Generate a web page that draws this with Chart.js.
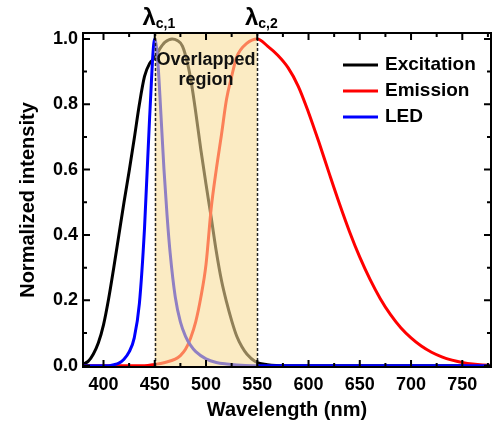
<!DOCTYPE html>
<html>
<head>
<meta charset="utf-8">
<script src="https://cdn.jsdelivr.net/npm/chart.js"></script>
<style>
  html, body { margin: 0; padding: 0; background: #fff; }
</style>
</head>
<body>
<canvas id="chart" width="499" height="428"></canvas>
<script>
// Excitation spectrum (black)
const excitationNm  = [380, 385, 390, 395, 400, 405, 410, 415, 420, 425, 430, 435, 440, 445, 450, 455, 460, 467, 472, 477, 482, 486, 490, 495, 500, 505, 510, 515, 520, 525, 530, 535, 540, 548, 560, 580, 780];
const excitationVal = [0.005, 0.013, 0.035, 0.07, 0.125, 0.205, 0.3, 0.4, 0.5, 0.595, 0.695, 0.8, 0.885, 0.925, 0.942, 0.97, 0.99, 1.0, 0.995, 0.978, 0.925, 0.86, 0.775, 0.66, 0.555, 0.455, 0.35, 0.262, 0.195, 0.138, 0.09, 0.058, 0.035, 0.013, 0.003, 0, 0];

// Emission spectrum (red)
const emissionNm  = [380, 440, 450, 460, 470, 475, 480, 485, 490, 495, 500, 505, 510, 515, 520, 525, 530, 540, 550, 560, 570, 580, 590, 600, 610, 620, 630, 640, 650, 660, 670, 680, 690, 700, 710, 720, 730, 740, 750, 760, 770, 778];
const emissionVal = [0, 0, 0.004, 0.01, 0.02, 0.031, 0.05, 0.085, 0.135, 0.21, 0.31, 0.48, 0.6, 0.705, 0.815, 0.885, 0.945, 0.987, 1.0, 0.978, 0.95, 0.912, 0.855, 0.775, 0.685, 0.59, 0.497, 0.41, 0.332, 0.264, 0.205, 0.156, 0.116, 0.085, 0.06, 0.041, 0.027, 0.017, 0.01, 0.005, 0.002, 0.001];

// LED spectrum (blue)
const ledNm  = [380, 405, 410, 415, 420, 425, 430, 435, 440, 445, 450, 453, 456, 459, 462, 465, 470, 475, 480, 485, 490, 500, 510, 520, 530, 545, 780];
const ledVal = [0, 0, 0.003, 0.008, 0.02, 0.042, 0.085, 0.19, 0.42, 0.76, 1.0, 0.93, 0.77, 0.6, 0.46, 0.345, 0.21, 0.134, 0.09, 0.062, 0.043, 0.021, 0.01, 0.005, 0.002, 0, 0];

// cut-off wavelengths and their labels
const cutoffs = [450, 550];
const cutoffSubs = ['c,1', 'c,2'];

// axis ticks
const xMajor = [400, 450, 500, 550, 600, 650, 700, 750];
const xMinor = [425, 475, 525, 575, 625, 675, 725, 775];
const yMajor = [0, 0.2, 0.4, 0.6, 0.8, 1.0];
const yMinor = [0.1, 0.3, 0.5, 0.7, 0.9];

const FONT = '"Liberation Sans", Arial, sans-serif';

const toPoints = (xs, ys) => xs.map((v, i) => ({ x: v, y: ys[i] }));

const decorPlugin = {
  id: 'decor',
  afterDatasetsDraw(chart) {
    const { ctx, chartArea: a, scales: { x } } = chart;
    const x1 = x.getPixelForValue(cutoffs[0]);
    const x2 = x.getPixelForValue(cutoffs[1]);
    ctx.save();
    // translucent overlap band, drawn over the curves
    ctx.fillStyle = 'rgba(248, 220, 152, 0.58)';
    ctx.fillRect(x1, a.top, x2 - x1, a.bottom - a.top);

    // dashed cut-off lines
    ctx.strokeStyle = '#222';
    ctx.lineWidth = 1.5;
    ctx.setLineDash([3, 2]);
    cutoffs.forEach(c => {
      const px = Math.round(x.getPixelForValue(c)) + 0.5;
      ctx.beginPath();
      ctx.moveTo(px, a.top);
      ctx.lineTo(px, a.bottom);
      ctx.stroke();
    });
    ctx.setLineDash([]);

    // region label
    ctx.fillStyle = '#111';
    ctx.font = 'bold 18px ' + FONT;
    ctx.textAlign = 'center';
    ctx.textBaseline = 'middle';
    const cx = (x1 + x2) / 2;
    ctx.fillText('Overlapped', cx, 60);
    ctx.fillText('region', cx, 80);
    ctx.restore();
  },
  afterDraw(chart) {
    const { ctx, chartArea: a, scales: { x, y } } = chart;
    ctx.save();
    ctx.strokeStyle = '#000';
    ctx.lineWidth = 2;
    ctx.strokeRect(a.left, a.top, a.right - a.left, a.bottom - a.top);

    // inward ticks on all four sides
    const tickX = (vals, len) => vals.forEach(v => {
      const px = x.getPixelForValue(v);
      if (px < a.left || px > a.right) return;
      ctx.beginPath();
      ctx.moveTo(px, a.bottom); ctx.lineTo(px, a.bottom - len);
      ctx.moveTo(px, a.top); ctx.lineTo(px, a.top + len);
      ctx.stroke();
    });
    const tickY = (vals, len) => vals.forEach(v => {
      const py = y.getPixelForValue(v);
      ctx.beginPath();
      ctx.moveTo(a.left, py); ctx.lineTo(a.left + len, py);
      ctx.moveTo(a.right, py); ctx.lineTo(a.right - len, py);
      ctx.stroke();
    });
    tickX(xMajor, 7);
    tickX(xMinor, 4);
    tickY(yMajor, 7);
    tickY(yMinor, 4);

    // lambda labels above the cut-off lines
    ctx.fillStyle = '#000';
    ctx.textBaseline = 'alphabetic';
    cutoffs.forEach((c, i) => {
      const px = x.getPixelForValue(c);
      ctx.font = 'bold 24px ' + FONT;
      ctx.textAlign = 'right';
      ctx.fillText('\u03bb', px + 1, 25);
      ctx.font = 'bold 14px ' + FONT;
      ctx.textAlign = 'left';
      ctx.fillText(cutoffSubs[i], px + 1, 28);
    });

    // legend with line samples
    ctx.font = 'bold 19px ' + FONT;
    ctx.textBaseline = 'middle';
    chart.data.datasets.forEach((ds, i) => {
      const ly = 65 + i * 26;
      ctx.strokeStyle = ds.borderColor;
      ctx.lineWidth = 3;
      ctx.beginPath();
      ctx.moveTo(343, ly);
      ctx.lineTo(378, ly);
      ctx.stroke();
      ctx.fillStyle = '#000';
      ctx.fillText(ds.label, 385, ly);
    });
    ctx.restore();
  }
};

new Chart(document.getElementById('chart'), {
  type: 'line',
  data: {
    datasets: [
      { label: 'Excitation', data: toPoints(excitationNm, excitationVal), borderColor: '#000000', order: 2 },
      { label: 'Emission', data: toPoints(emissionNm, emissionVal), borderColor: '#ff0000', order: 1 },
      { label: 'LED', data: toPoints(ledNm, ledVal), borderColor: '#0000ff', order: 0 }
    ]
  },
  options: {
    responsive: false,
    animation: false,
    layout: { padding: { left: 0, right: 8, top: 33, bottom: 0 } },
    elements: {
      line: { borderWidth: 3, cubicInterpolationMode: 'monotone', fill: false },
      point: { radius: 0, hoverRadius: 0 }
    },
    plugins: {
      legend: { display: false },
      tooltip: { enabled: false }
    },
    scales: {
      x: {
        type: 'linear',
        min: 380,
        max: 778,
        afterBuildTicks: s => { s.ticks = xMajor.map(v => ({ value: v })); },
        afterFit: s => { s.height = 61; },
        grid: { display: false, drawTicks: false },
        border: { display: false },
        ticks: {
          color: '#000',
          padding: 7,
          maxRotation: 0,
          font: { family: FONT, size: 18, weight: 'bold' },
          callback: v => String(v)
        },
        title: {
          display: true,
          text: 'Wavelength (nm)',
          color: '#000',
          padding: { top: 0, bottom: 6 },
          font: { family: FONT, size: 20, weight: 'bold', lineHeight: 1.2 }
        }
      },
      y: {
        type: 'linear',
        min: -0.004,
        max: 1.018,
        afterBuildTicks: s => { s.ticks = yMajor.map(v => ({ value: v })); },
        afterFit: s => { s.width = 83; },
        grid: { display: false, drawTicks: false },
        border: { display: false },
        ticks: {
          color: '#000',
          padding: 5,
          font: { family: FONT, size: 18, weight: 'bold' },
          callback: v => v.toFixed(1)
        },
        title: {
          display: true,
          text: 'Normalized intensity',
          color: '#000',
          padding: { top: 16, bottom: 0 },
          font: { family: FONT, size: 20, weight: 'bold', lineHeight: 1.2 }
        }
      }
    }
  },
  plugins: [decorPlugin]
});
</script>
</body>
</html>
